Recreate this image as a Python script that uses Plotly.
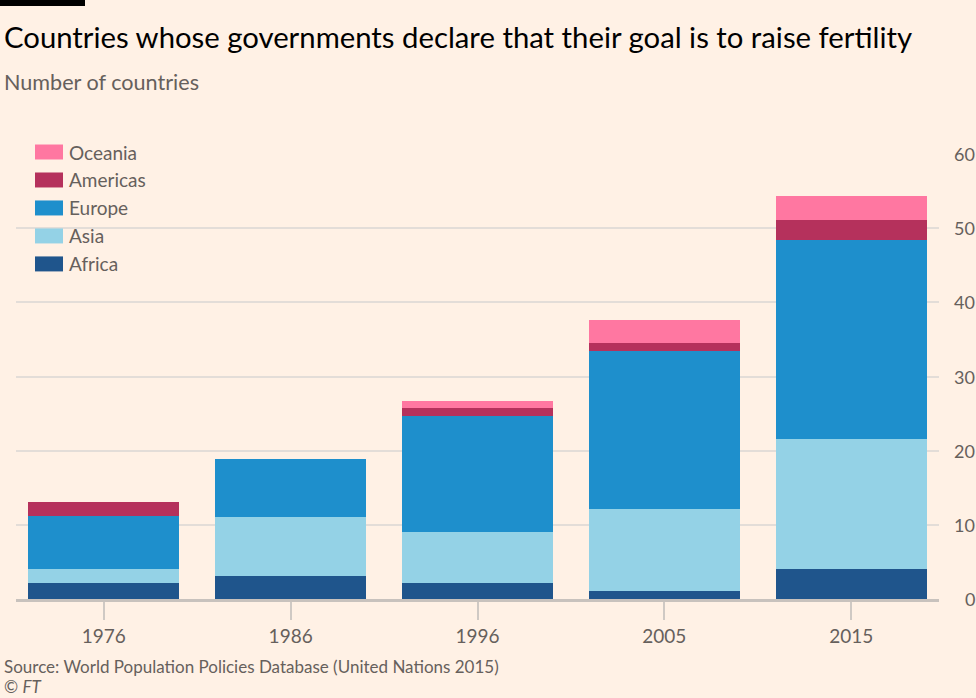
import plotly.graph_objects as go

years = ["1976", "1986", "1996", "2005", "2015"]
regions = ["Africa", "Asia", "Europe", "Americas", "Oceania"]
africa = [2.2, 3.1, 2.1, 1.1, 4.0]
asia = [1.9, 7.9, 6.9, 11.0, 17.6]
europe = [7.1, 7.9, 15.7, 21.3, 26.8]
americas = [1.9, 0, 1.0, 1.1, 2.7]
oceania = [0, 0, 1.0, 3.1, 3.2]
series = [africa, asia, europe, americas, oceania]
colors = ["#1f558c", "#94d2e6", "#1e8fcc", "#b5315c", "#ff77a1"]
y_ticks = [0, 10, 20, 30, 40, 50, 60]
y_tick_labels = ["0", "10", "20", "30", "40", "50", "60"]

title = "Countries whose governments declare that their goal is to raise fertility"
subtitle = "Number of countries"
source = "Source: World Population Policies Database (United Nations 2015)"
credit = "© <i>FT</i>"

BG = "#fff1e5"
FONT = "Lato"
GREY = "#66605c"

# plot area in pixels
L, R, T, B = 16, 939, 154, 599.3
W, H = R - L, B - T


def px(x):
    return (x - L) / W


def py(y):
    return (B - y) / H


fig = go.Figure()
for name, vals, col in zip(regions, series, colors):
    fig.add_trace(go.Bar(x=years, y=vals, name=name, marker_color=col,
                         marker_line_width=0, showlegend=False, hoverinfo="skip"))

shapes = []
annotations = []

# top black bar
shapes.append(dict(type="rect", xref="paper", yref="paper", x0=px(0), x1=px(85),
                   y0=py(6), y1=py(0), fillcolor="#000000", line_width=0, layer="above"))
# mask gridlines behind legend
shapes.append(dict(type="rect", xref="paper", yref="paper", x0=px(16), x1=px(166),
                   y0=py(282), y1=py(140), fillcolor=BG, line_width=0, layer="between"))

# legend (manual)
leg_rows = [152, 180, 208, 236, 264]
for i, (name, col) in enumerate(zip(regions[::-1], colors[::-1])):
    yc = leg_rows[i]
    shapes.append(dict(type="rect", xref="paper", yref="paper", x0=px(35), x1=px(63),
                       y0=py(yc + 7.5), y1=py(yc - 7.5), fillcolor=col, line_width=0,
                       layer="above"))
    annotations.append(dict(text=name, xref="paper", yref="paper", x=px(67), y=py(yc),
                            xanchor="left", yanchor="middle", showarrow=False,
                            font=dict(family=FONT, size=19, color=GREY)))

# right-aligned y tick labels
for v, lab in zip(y_ticks, y_tick_labels):
    annotations.append(dict(text=lab, xref="paper", yref="y", x=px(977), y=v,
                            xanchor="right", yanchor="middle", showarrow=False,
                            font=dict(family=FONT, size=18, color=GREY)))

annotations.append(dict(text=title, xref="paper", yref="paper", x=px(2), y=py(36),
                        xanchor="left", yanchor="middle", showarrow=False,
                        font=dict(family=FONT, size=29.3, color="#000000")))
annotations.append(dict(text=subtitle, xref="paper", yref="paper", x=px(2), y=py(82),
                        xanchor="left", yanchor="middle", showarrow=False,
                        font=dict(family=FONT, size=21.6, color=GREY)))
annotations.append(dict(text=source, xref="paper", yref="paper", x=px(2), y=py(667),
                        xanchor="left", yanchor="middle", showarrow=False,
                        font=dict(family=FONT, size=17, color=GREY)))
annotations.append(dict(text=credit, xref="paper", yref="paper", x=px(2), y=py(687),
                        xanchor="left", yanchor="middle", showarrow=False,
                        font=dict(family=FONT, size=17, color=GREY)))

fig.update_layout(
    width=976, height=698,
    margin=dict(l=L, r=976 - R, t=T, b=698 - B, pad=0),
    paper_bgcolor=BG, plot_bgcolor=BG,
    barmode="stack", bargap=0.19,
    showlegend=False,
    shapes=shapes, annotations=annotations,
    font=dict(family=FONT, color=GREY),
)
fig.update_xaxes(type="category", range=[-0.47, 4.47], showgrid=False,
                 showline=True, linecolor="#c8c2bd", linewidth=3,
                 ticks="outside", ticklen=18, tickwidth=2, tickcolor="#cfc9c4",
                 tickfont=dict(family=FONT, size=19, color=GREY), fixedrange=True)
fig.update_yaxes(range=[0, 60], tickvals=y_ticks, showticklabels=False,
                 showgrid=True, gridcolor="#e3ddd8", gridwidth=2,
                 zeroline=False, showline=False, fixedrange=True)

fig.write_html("out.html", config={"displayModeBar": False},
               post_script="document.body.style.margin='0';document.body.style.background='#fff1e5';")
